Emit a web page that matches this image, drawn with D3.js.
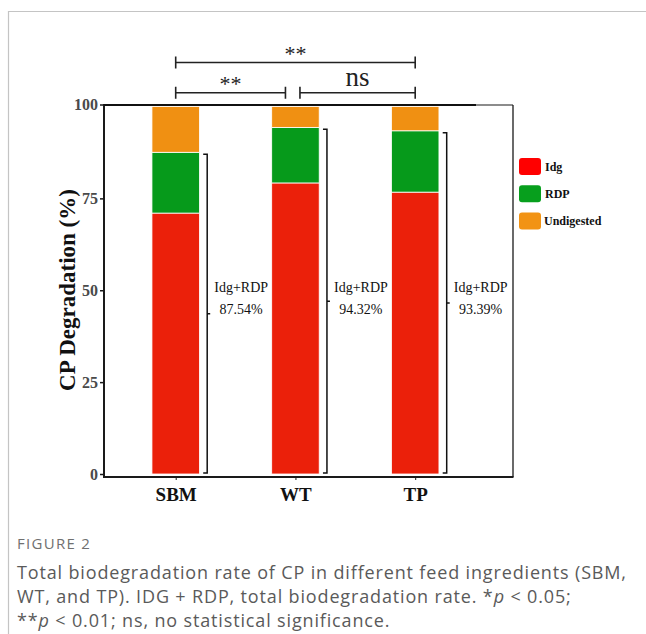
<!DOCTYPE html>
<html>
<head>
<meta charset="utf-8">
<script src="https://cdn.jsdelivr.net/npm/d3@7"></script>
<style>
  body { margin: 0; background: #fff; }
  svg { display: block; }
</style>
</head>
<body>
<div id="chart"></div>
<script>
// data
var categories = ["SBM", "WT", "TP"];
var idgValues = [71.0, 79.2, 76.7];
var rdpValues = [16.54, 15.12, 16.69];
var undigestedValues = [12.46, 5.68, 6.61];
var totalLabels = ["87.54%", "94.32%", "93.39%"];
var yTicks = [0, 25, 50, 75, 100];
var seriesNames = ["Idg", "RDP", "Undigested"];
var barColors = ["#eb200a", "#069a1b", "#f09012"];
var legendColors = ["#ff0000", "#079f1d", "#f29314"];
// significance comparisons: [from, to, label, level]
var comparisons = [["SBM", "TP", "**", 2], ["SBM", "WT", "**", 1], ["WT", "TP", "ns", 1]];

var serif = "'Liberation Serif', 'Times New Roman', serif";

var svg = d3.select("#chart").append("svg")
  .attr("width", 646)
  .attr("height", 634);

// page frame
svg.append("line").attr("x1", 8).attr("x2", 646).attr("y1", 11.5).attr("y2", 11.5)
  .attr("stroke", "#c4c4c4").attr("stroke-width", 1.2);
svg.append("line").attr("x1", 8.5).attr("x2", 8.5).attr("y1", 11).attr("y2", 634)
  .attr("stroke", "#c4c4c4").attr("stroke-width", 1.2);

var x = d3.scalePoint().domain(categories).range([175.7, 415.2]);
var y = d3.scaleLinear().domain([0, 100]).range([474, 106.5]);
var barW = 47.5;

// stack the series
var rows = categories.map(function(c, i) {
  return { cat: c, Idg: idgValues[i], RDP: rdpValues[i], Undigested: undigestedValues[i] };
});
var stacked = d3.stack().keys(seriesNames)(rows);

svg.append("g").selectAll("g")
  .data(stacked)
  .join("g")
  .attr("fill", function(d, i) { return barColors[i]; })
  .selectAll("rect")
  .data(function(d) { return d; })
  .join("rect")
  .attr("x", function(d) { return x(d.data.cat) - barW / 2; })
  .attr("y", function(d) { return y(d[1]); })
  .attr("width", barW)
  .attr("height", function(d) { return y(d[0]) - y(d[1]); })
  .attr("stroke", "#fff")
  .attr("stroke-width", 0.8);

// plot frame
var plotLeft = 104, plotRight = 513, plotTop = 105, plotBottom = 477;
svg.append("line").attr("x1", plotLeft).attr("x2", plotLeft).attr("y1", plotTop - 1).attr("y2", plotBottom + 1)
  .attr("stroke", "#1a1a1a").attr("stroke-width", 2);
svg.append("line").attr("x1", plotLeft - 1).attr("x2", plotRight + 0.5).attr("y1", plotBottom).attr("y2", plotBottom)
  .attr("stroke", "#1a1a1a").attr("stroke-width", 2);
svg.append("line").attr("x1", plotRight).attr("x2", plotRight).attr("y1", plotTop).attr("y2", plotBottom)
  .attr("stroke", "#1a1a1a").attr("stroke-width", 1.3);
svg.append("line").attr("x1", plotLeft).attr("x2", 476).attr("y1", plotTop).attr("y2", plotTop)
  .attr("stroke", "#111").attr("stroke-width", 2.2);
svg.append("line").attr("x1", 476).attr("x2", plotRight).attr("y1", plotTop).attr("y2", plotTop)
  .attr("stroke", "#1a1a1a").attr("stroke-width", 1.2);

// y axis
var yAxis = svg.append("g")
  .attr("transform", "translate(" + plotLeft + ",0)")
  .call(d3.axisLeft(y).tickValues(yTicks).tickSize(4).tickPadding(2));
yAxis.select(".domain").remove();
yAxis.selectAll(".tick line").attr("stroke", "#1a1a1a").attr("stroke-width", 1.5);
yAxis.selectAll(".tick text")
  .attr("font-family", serif).attr("font-weight", "bold").attr("font-size", 16)
  .attr("fill", "#4a4a4a");
yAxis.selectAll(".tick").filter(function(d) { return d === 100; })
  .attr("transform", "translate(0," + (y(100) - 1.5) + ")");

// x axis
var xAxis = svg.append("g")
  .attr("transform", "translate(0," + plotBottom + ")")
  .call(d3.axisBottom(x).tickSize(3).tickPadding(8));
xAxis.select(".domain").remove();
xAxis.selectAll(".tick line").attr("stroke", "#1a1a1a").attr("stroke-width", 1);
xAxis.selectAll(".tick text")
  .attr("font-family", serif).attr("font-weight", "bold").attr("font-size", 19)
  .attr("fill", "#111");

// y axis title
svg.append("text")
  .attr("transform", "translate(75,290) rotate(-90)")
  .attr("text-anchor", "middle")
  .attr("font-family", serif).attr("font-weight", "bold").attr("font-size", 23)
  .attr("fill", "#111")
  .text("CP Degradation (%)");

// Idg+RDP braces
var braces = svg.append("g");
categories.forEach(function(c, i) {
  var bx = x(c) + 31.5;
  var total = idgValues[i] + rdpValues[i];
  var y0 = y(total) + 2;
  var y1 = 473;
  var mid = (y0 + y1) / 2;
  braces.append("path")
    .attr("d", "M" + (bx - 4) + "," + y0 + "H" + bx + "V" + y1 + "H" + (bx - 4) +
      "M" + bx + "," + mid + "H" + (bx + 3))
    .attr("fill", "none").attr("stroke", "#111").attr("stroke-width", 1.5);
  braces.append("text")
    .attr("x", bx + 34).attr("y", y(49.5))
    .attr("text-anchor", "middle")
    .attr("font-family", serif).attr("font-size", 14).attr("fill", "#111")
    .text("Idg+RDP");
  braces.append("text")
    .attr("x", bx + 34).attr("y", y(43.5))
    .attr("text-anchor", "middle")
    .attr("font-family", serif).attr("font-size", 14).attr("fill", "#111")
    .text(totalLabels[i]);
});

// significance brackets
var sig = svg.append("g");
comparisons.forEach(function(cmp) {
  var xa = x(cmp[0]), xb = x(cmp[1]);
  if (cmp[0] === "WT") xa += 4.5;
  if (cmp[1] === "WT") xb -= 10;
  var ly = cmp[3] === 2 ? 62.5 : 92.7;
  sig.append("path")
    .attr("d", "M" + xa + "," + (ly - 6) + "V" + (ly + 6) +
      "M" + xa + "," + ly + "H" + xb +
      "M" + xb + "," + (ly - 6) + "V" + (ly + 6))
    .attr("fill", "none").attr("stroke", "#222").attr("stroke-width", 1.6);
  var isNs = cmp[2] === "ns";
  sig.append("text")
    .attr("x", (xa + xb) / 2)
    .attr("y", isNs ? ly - 7 : ly - 2)
    .attr("text-anchor", "middle")
    .attr("font-family", serif).attr("font-size", isNs ? 27 : 22)
    .attr("fill", "#222")
    .text(cmp[2]);
});

// legend
var legend = svg.append("g").attr("transform", "translate(519,158)");
seriesNames.forEach(function(name, i) {
  var g = legend.append("g").attr("transform", "translate(0," + (i * 27.3) + ")");
  g.append("rect")
    .attr("width", 22).attr("height", 17).attr("rx", 3)
    .attr("fill", legendColors[i]);
  g.append("text")
    .attr("x", i === 2 ? 25 : 26).attr("y", 12.5)
    .attr("font-family", serif).attr("font-weight", "bold").attr("font-size", 12)
    .attr("fill", "#111")
    .text(name);
});

// caption
var cap = svg.append("g").attr("font-family", "'Open Sans', 'Noto Sans', sans-serif");
cap.append("text")
  .attr("x", 17).attr("y", 549)
  .attr("font-size", 15).attr("letter-spacing", 1.3).attr("fill", "#707070")
  .text("FIGURE 2");
var capLines = [
  ["Total biodegradation rate of CP in different feed ingredients (SBM,"],
  ["WT, and TP). IDG + RDP, total biodegradation rate. *", "p", " < 0.05;"],
  ["**", "p", " < 0.01; ns, no statistical significance."]
];
capLines.forEach(function(parts, i) {
  var t = cap.append("text")
    .attr("x", 17).attr("y", 579 + i * 24)
    .attr("font-size", 18).attr("letter-spacing", 0.85).attr("fill", "#5a5a5a");
  parts.forEach(function(p, j) {
    t.append("tspan").attr("font-style", j === 1 ? "italic" : null).text(p);
  });
});
</script>
</body>
</html>
